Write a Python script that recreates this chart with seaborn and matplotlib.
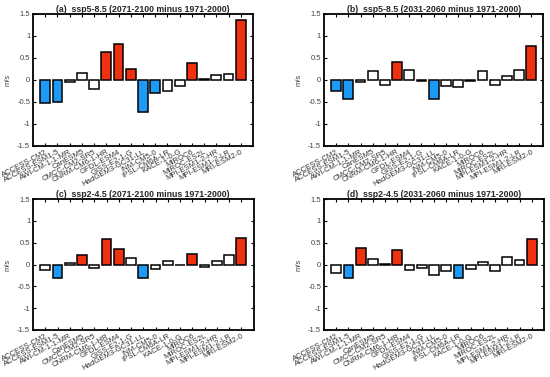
import matplotlib
matplotlib.use("Agg")
import matplotlib.pyplot as plt
import seaborn as sns
import pandas as pd

models = ["ACCESS-CM2", "ACCESS-ESM1-5", "AWI-CM-1-1-MR", "CanESM5", "CMCC-CM2-SR5",
          "CNRM-CM6-1-HR", "GFDL-ESM4", "GISS-E2-1-G", "HadGEM3-GC31-LL", "INM-CM5-0",
          "IPSL-CM6A-LR", "KACE-1-0-G", "MIROC6", "MIROC-ES2L", "MPI-ESM1-2-HR",
          "MPI-ESM1-2-LR", "MRI-ESM2-0"]

titles = ["(a)  ssp5-8.5 (2071-2100 minus 1971-2000)",
          "(b)  ssp5-8.5 (2031-2060 minus 1971-2000)",
          "(c)  ssp2-4.5 (2071-2100 minus 1971-2000)",
          "(d)  ssp2-4.5 (2031-2060 minus 1971-2000)"]

vals_a = [-0.52, -0.50, -0.05, 0.15, -0.21, 0.62, 0.81, 0.24, -0.73, -0.31, -0.26,
          -0.14, 0.38, 0.01, 0.11, 0.12, 1.35]
vals_b = [-0.25, -0.44, -0.06, 0.19, -0.12, 0.41, 0.21, -0.04, -0.44, -0.14, -0.16,
          -0.03, 0.20, -0.11, 0.09, 0.21, 0.77]
vals_c = [-0.12, -0.31, 0.03, 0.23, -0.07, 0.58, 0.36, 0.14, -0.31, -0.10, 0.08,
          -0.02, 0.25, -0.05, 0.09, 0.23, 0.62]
vals_d = [-0.19, -0.31, 0.38, 0.13, 0.01, 0.34, -0.12, -0.07, -0.25, -0.15, -0.31,
          -0.11, 0.07, -0.14, 0.17, 0.10, 0.58]

# significance class: 1 = significant increase (red), -1 = significant decrease (blue), 0 = not
sig_a = [-1, -1, 0, 0, 0, 1, 1, 1, -1, -1, 0, 0, 1, 0, 0, 0, 1]
sig_b = [-1, -1, 0, 0, 0, 1, 0, 0, -1, 0, 0, 0, 0, 0, 0, 0, 1]
sig_c = [0, -1, 0, 1, 0, 1, 1, 0, -1, 0, 0, 0, 1, 0, 0, 0, 1]
sig_d = [0, -1, 1, 0, 0, 1, 0, 0, 0, 0, -1, 0, 0, 0, 0, 0, 1]

yticks = [-1.5, -1, -0.5, 0, 0.5, 1, 1.5]
ytick_labels = ["-1.5", "-1", "-0.5", "0", "0.5", "1", "1.5"]

RED = "#ee3210"
BLUE = "#1c9af5"
cmap = {1: RED, -1: BLUE, 0: "white"}

sns.set_theme(style="white")
plt.rcParams['font.family'] = ['Liberation Sans', 'DejaVu Sans']

fig = plt.figure(figsize=(5.5, 3.77), dpi=100)
positions = [
    [0.060, 0.6135, 0.400, 0.350],
    [0.589, 0.6135, 0.399, 0.350],
    [0.060, 0.1247, 0.401, 0.347],
    [0.589, 0.1247, 0.400, 0.347],
]
allvals = [vals_a, vals_b, vals_c, vals_d]
allsig = [sig_a, sig_b, sig_c, sig_d]

for pos, title, vals, sig in zip(positions, titles, allvals, allsig):
    ax = fig.add_axes(pos)
    df = pd.DataFrame({"model": models, "value": vals})
    pal = {m: cmap[s] for m, s in zip(models, sig)}
    sns.barplot(data=df, x="model", y="value", hue="model", palette=pal,
                legend=False, edgecolor="black", linewidth=1.1, width=0.8,
                saturation=1, ax=ax, zorder=3)
    ax.set_xlim(-1, len(models))
    ax.set_ylim(-1.5, 1.5)
    ax.set_yticks(yticks)
    ax.set_yticklabels(ytick_labels, fontsize=5.5, color="#444444")
    ax.set_xticks(range(len(models)))
    ax.set_xticklabels(models, rotation=28, ha="right", rotation_mode="anchor",
                       fontsize=5.6, color="#333333")
    ax.tick_params(axis="both", direction="in", length=2.5, width=0.8,
                   top=True, right=True, bottom=True, left=True, pad=2, color="black")
    ax.set_xlabel("")
    ax.set_ylabel("m/s", fontsize=5.5, color="#444444", labelpad=4)
    ax.set_title(title, fontsize=6.3, fontweight="bold", pad=1.5)
    for sp in ax.spines.values():
        sp.set_color("black")
        sp.set_linewidth(1.3)
        sp.set_visible(True)

fig.savefig("out.png", dpi=100)
